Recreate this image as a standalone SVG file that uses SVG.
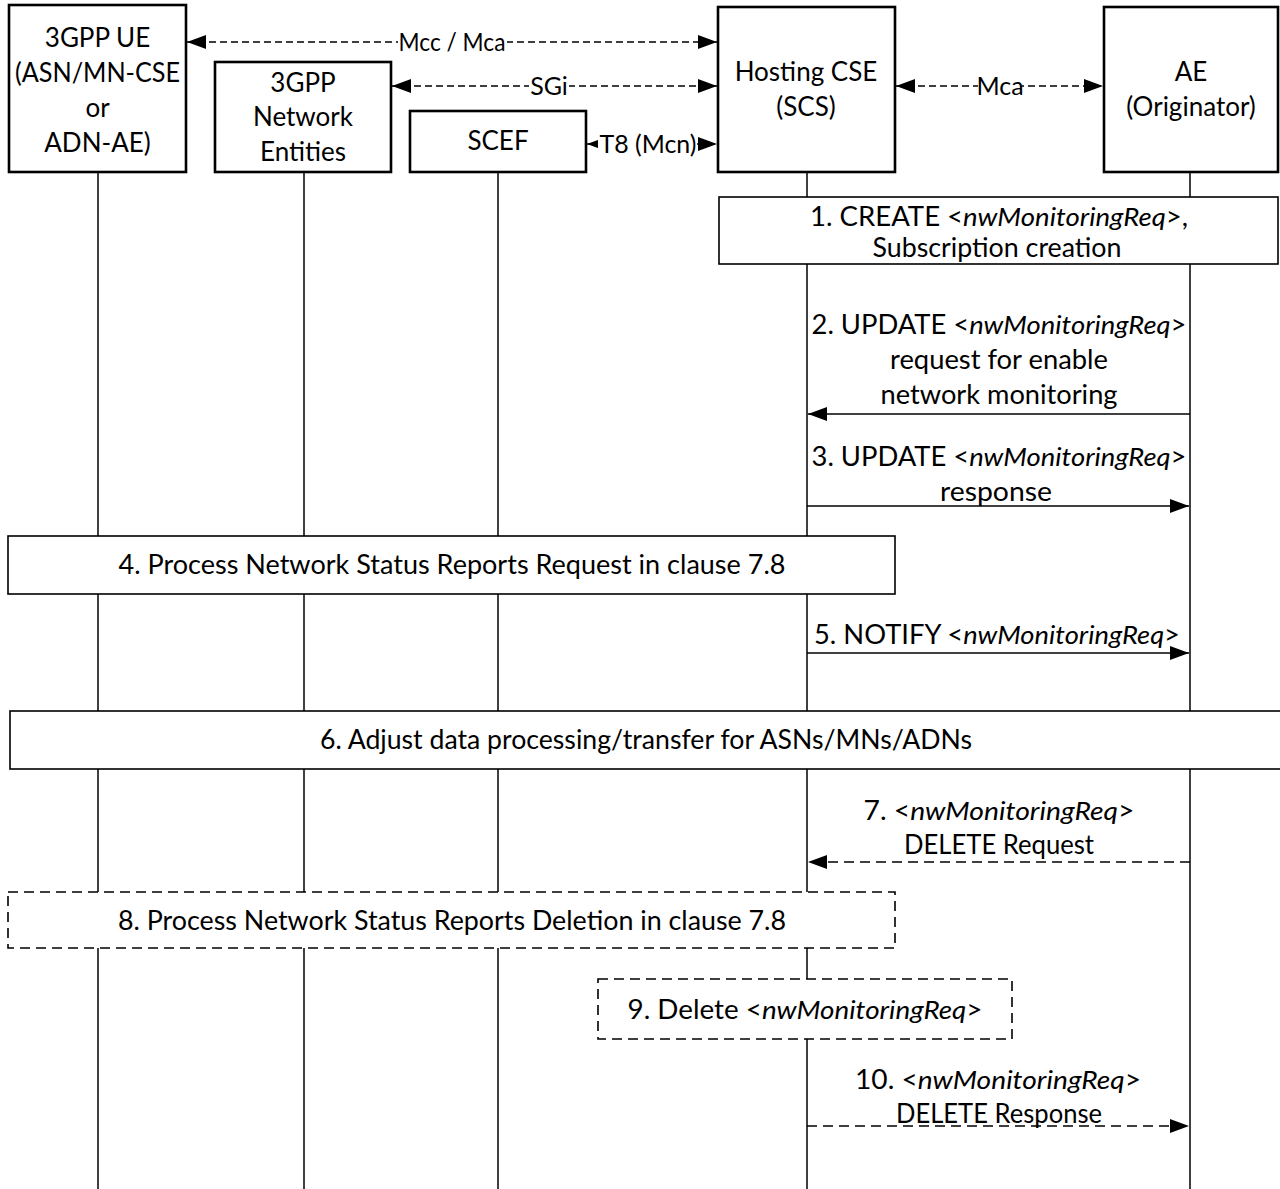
<svg xmlns="http://www.w3.org/2000/svg" width="1280" height="1189" viewBox="0 0 1280 1189">
<defs>
<style>
text{font-family:Lato,"Open Sans","DejaVu Sans",sans-serif;font-size:26px;fill:#000;text-anchor:middle}
.it{font-style:italic}
.lbl{font-size:25px}
.part{fill:#fff;stroke:#000;stroke-width:2.6}
.life{stroke:#000;stroke-width:1.5;fill:none}
.step{fill:#fff;stroke:#000;stroke-width:1.6}
.dstep{fill:#fff;stroke:#000;stroke-width:1.6;stroke-dasharray:10 6}
.msg{stroke:#000;stroke-width:1.6;fill:none;marker-end:url(#ah)}
.dmsg{stroke:#000;stroke-width:1.6;fill:none;stroke-dasharray:10 6;marker-end:url(#ah)}
.ref{stroke:#000;stroke-width:1.6;fill:none;stroke-dasharray:7 4;marker-start:url(#ah);marker-end:url(#ah)}
.bg{fill:#fff}
</style>
<marker id="ah" markerUnits="userSpaceOnUse" markerWidth="19" markerHeight="14" refX="19" refY="7" orient="auto-start-reverse" viewBox="0 0 19 14">
<path d="M0,0 L19,7 L0,14 z" fill="#000" stroke="none"/>
</marker>
</defs>
<rect width="1280" height="1189" fill="#fff"/>
<g id="lifelines">
<line class="life" x1="98" y1="172" x2="98" y2="1189"/>
<line class="life" x1="304" y1="172" x2="304" y2="1189"/>
<line class="life" x1="498" y1="172" x2="498" y2="1189"/>
<line class="life" x1="807" y1="172" x2="807" y2="1189"/>
<line class="life" x1="1190" y1="172" x2="1190" y2="1189"/>
</g>
<g id="ue">
<rect class="part" x="9" y="5" width="177" height="167"/>
<text x="97.5" y="47">3GPP UE</text>
<text x="97.5" y="82" textLength="165" lengthAdjust="spacingAndGlyphs">(ASN/MN-CSE</text>
<text x="97.5" y="117">or</text>
<text x="97.5" y="152">ADN-AE)</text>
</g>
<g id="ne">
<rect class="part" x="215" y="62" width="176" height="110"/>
<text x="303" y="92">3GPP</text>
<text x="303" y="126">Network</text>
<text x="303" y="161">Entities</text>
</g>
<g id="scef">
<rect class="part" x="410" y="111" width="176" height="61"/>
<text x="498" y="150">SCEF</text>
</g>
<g id="hcse">
<rect class="part" x="718" y="7" width="177" height="165"/>
<text x="806" y="81">Hosting CSE</text>
<text x="806" y="116">(SCS)</text>
</g>
<g id="ae">
<rect class="part" x="1104" y="7" width="174" height="165"/>
<text x="1191" y="81">AE</text>
<text x="1191" y="116">(Originator)</text>
</g>
<g id="connectors">
<line class="ref" x1="187" y1="42" x2="717" y2="42"/>
<rect class="bg" x="398" y="30" width="109" height="24"/>
<text class="lbl" x="452" y="51" textLength="107" lengthAdjust="spacingAndGlyphs">Mcc / Mca</text>
<line class="ref" x1="392" y1="86" x2="717" y2="86"/>
<rect class="bg" x="529" y="74" width="40" height="24"/>
<text class="lbl" x="549" y="95">SGi</text>
<line class="ref" x1="896" y1="86" x2="1103" y2="86"/>
<rect class="bg" x="978" y="74" width="44" height="24"/>
<text class="lbl" x="1000" y="95">Mca</text>
<line class="ref" x1="587" y1="144" x2="717" y2="144"/>
<rect class="bg" x="598" y="132" width="99" height="24"/>
<text class="lbl" x="648" y="153" textLength="97" lengthAdjust="spacingAndGlyphs">T8 (Mcn)</text>
<line class="msg" x1="1190" y1="414" x2="808" y2="414"/>
<text x="999" y="334" textLength="375" lengthAdjust="spacingAndGlyphs">2. UPDATE &lt;<tspan class="it">nwMonitoringReq</tspan>&gt;</text>
<text x="999" y="369" textLength="218" lengthAdjust="spacingAndGlyphs">request for enable</text>
<text x="999" y="404" textLength="237" lengthAdjust="spacingAndGlyphs">network monitoring</text>
<line class="msg" x1="807" y1="506" x2="1189" y2="506"/>
<text x="999" y="466" textLength="375" lengthAdjust="spacingAndGlyphs">3. UPDATE &lt;<tspan class="it">nwMonitoringReq</tspan>&gt;</text>
<text x="996" y="501" textLength="112" lengthAdjust="spacingAndGlyphs">response</text>
<line class="msg" x1="807" y1="653" x2="1189" y2="653"/>
<text x="997" y="644" textLength="366" lengthAdjust="spacingAndGlyphs">5. NOTIFY &lt;<tspan class="it">nwMonitoringReq</tspan>&gt;</text>
<line class="dmsg" x1="1190" y1="862" x2="808" y2="862"/>
<text x="999" y="820" textLength="271" lengthAdjust="spacingAndGlyphs">7. &lt;<tspan class="it">nwMonitoringReq</tspan>&gt;</text>
<text x="999" y="854" textLength="190" lengthAdjust="spacingAndGlyphs">DELETE Request</text>
<line class="dmsg" x1="807" y1="1126" x2="1189" y2="1126"/>
<text x="998" y="1089" textLength="286" lengthAdjust="spacingAndGlyphs">10. &lt;<tspan class="it">nwMonitoringReq</tspan>&gt;</text>
<text x="999" y="1123" textLength="206" lengthAdjust="spacingAndGlyphs">DELETE Response</text>
</g>
<g id="step1">
<rect class="step" x="719" y="197" width="559" height="67"/>
<text x="999" y="226" textLength="378" lengthAdjust="spacingAndGlyphs">1. CREATE &lt;<tspan class="it">nwMonitoringReq</tspan>&gt;,</text>
<text x="997" y="257" textLength="249" lengthAdjust="spacingAndGlyphs">Subscription creation</text>
</g>
<g id="step4">
<rect class="step" x="8" y="536" width="887" height="58"/>
<text x="452" y="574" textLength="667" lengthAdjust="spacingAndGlyphs">4. Process Network Status Reports Request in clause 7.8</text>
</g>
<g id="step6">
<rect class="step" x="10" y="711" width="1272" height="58"/>
<text x="646" y="749" textLength="652" lengthAdjust="spacingAndGlyphs">6. Adjust data processing/transfer for ASNs/MNs/ADNs</text>
</g>
<g id="step8">
<rect class="dstep" x="8" y="892" width="887" height="56"/>
<text x="452" y="930" textLength="668" lengthAdjust="spacingAndGlyphs">8. Process Network Status Reports Deletion in clause 7.8</text>
</g>
<g id="step9">
<rect class="dstep" x="598" y="979" width="414" height="60"/>
<text x="805" y="1019" textLength="355" lengthAdjust="spacingAndGlyphs">9. Delete &lt;<tspan class="it">nwMonitoringReq</tspan>&gt;</text>
</g>
</svg>
